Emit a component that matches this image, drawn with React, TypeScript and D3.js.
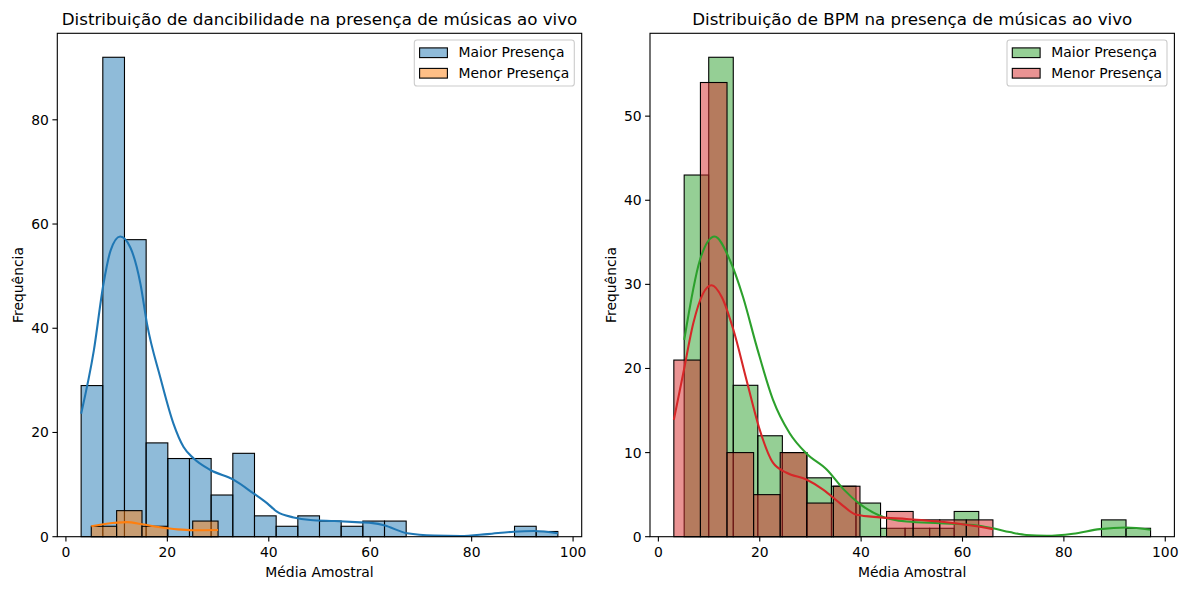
import React, { useEffect, useRef } from 'react';
import * as d3 from 'd3';

const width = 1188;
const height = 590;

// painel esquerdo: dancibilidade
const danceMaiorRange = [3.0, 97.0];
const danceMaiorCounts = [29, 92, 57, 18, 15, 15, 8, 16, 4, 2, 4, 3, 2, 3, 3, 0, 0, 0, 0, 0, 2, 1];
const danceMenorRange = [5.0, 30.0];
const danceMenorCounts = [2, 5, 2, 0, 3];

const danceMaiorKdeX = [3.0, 5.5, 7.4, 8.8, 10.7, 12.7, 14.7, 16.0, 18.6, 21.2, 23.2, 25.2, 28.5, 33.1, 37.0, 39.7, 41.6, 44.9, 48.2, 53.0, 58.1, 60.5, 62.7, 67.3, 72.6, 77.8, 83.1, 88.3, 92.3, 97.0];
const danceMaiorKdeY = [23.6, 35.7, 48.5, 54.9, 57.6, 55.5, 48.5, 40.8, 30.6, 21.7, 17.2, 15.0, 12.8, 10.9, 8.3, 6.4, 4.8, 3.7, 3.2, 3.0, 2.75, 2.6, 2.2, 0.65, 0.2, 0.13, 0.5, 0.96, 1.09, 0.65];
const danceMenorKdeX = [5.0, 8.0, 12.0, 15.0, 18.6, 22.0, 25.0, 30.0];
const danceMenorKdeY = [2.0, 2.5, 2.8, 2.4, 1.8, 1.4, 1.25, 1.3];

// painel direito: BPM
const bpmMaiorRange = [5.09, 97.1];
const bpmMaiorCounts = [43, 57, 18, 12, 10, 7, 6, 4, 1, 1, 1, 3, 0, 0, 0, 0, 0, 2, 1];
const bpmMenorRange = [3.05, 66.0];
const bpmMenorCounts = [21, 54, 10, 5, 10, 4, 6, 0, 3, 2, 2, 2];

const bpmMaiorKdeX = [5.1, 8.2, 11.1, 14.1, 16.7, 19.4, 22.6, 25.9, 29.2, 33.2, 36.6, 39.7, 43.7, 49.0, 55.5, 62.1, 66.0, 69.3, 72.6, 76.6, 81.8, 87.1, 92.3, 97.1];
const bpmMaiorKdeY = [23.4, 32.9, 35.7, 32.9, 28.5, 22.6, 16.3, 12.3, 9.9, 8.0, 5.6, 3.9, 2.5, 1.8, 1.6, 1.4, 1.0, 0.55, 0.2, 0.12, 0.36, 0.9, 1.1, 0.83];
const bpmMenorKdeX = [3.05, 4.9, 6.9, 8.8, 10.5, 12.5, 14.8, 17.4, 20.0, 22.6, 25.3, 29.2, 32.5, 35.8, 39.1, 43.7, 49.0, 55.5, 62.1, 66.0];
const bpmMenorKdeY = [13.9, 19.4, 25.4, 28.9, 29.9, 28.5, 24.6, 18.6, 12.7, 8.8, 7.6, 6.8, 5.6, 4.0, 2.6, 2.3, 2.1, 1.8, 1.3, 0.9];

const xTicks = [0, 20, 40, 60, 80, 100];
const danceYTicks = [0, 20, 40, 60, 80];
const bpmYTicks = [0, 10, 20, 30, 40, 50];
const legendLabels = ['Maior Presença', 'Menor Presença'];

interface ISeries {
  range: number[];
  counts: number[];
  kdeX: number[];
  kdeY: number[];
  color: string;
}

interface IPanel {
  left: number;
  title: string;
  yTicks: number[];
  series: ISeries[];
}

const panels: IPanel[] = [
  {
    left: 57.3,
    title: 'Distribuição de dancibilidade na presença de músicas ao vivo',
    yTicks: danceYTicks,
    series: [
      { range: danceMaiorRange, counts: danceMaiorCounts, kdeX: danceMaiorKdeX, kdeY: danceMaiorKdeY, color: '#1f77b4' },
      { range: danceMenorRange, counts: danceMenorCounts, kdeX: danceMenorKdeX, kdeY: danceMenorKdeY, color: '#ff7f0e' },
    ],
  },
  {
    left: 650,
    title: 'Distribuição de BPM na presença de músicas ao vivo',
    yTicks: bpmYTicks,
    series: [
      { range: bpmMaiorRange, counts: bpmMaiorCounts, kdeX: bpmMaiorKdeX, kdeY: bpmMaiorKdeY, color: '#2ca02c' },
      { range: bpmMenorRange, counts: bpmMenorCounts, kdeX: bpmMenorKdeX, kdeY: bpmMenorKdeY, color: '#d62728' },
    ],
  },
];

const axW = 524.4;
const axTop = 33.3;
const axBottom = 536.7;
const font = '"DejaVu Sans", sans-serif';

const drawPanel = (svg: d3.Selection<SVGSVGElement, unknown, null, undefined>, p: IPanel) => {
  const allX = p.series.flatMap((s) => s.range);
  const xMin = d3.min(allX)!;
  const xMax = d3.max(allX)!;
  const pad = (xMax - xMin) * 0.05;
  const yMax = d3.max(p.series.flatMap((s) => s.counts))! * 1.05;

  const x = d3.scaleLinear().domain([xMin - pad, xMax + pad]).range([p.left, p.left + axW]);
  const y = d3.scaleLinear().domain([0, yMax]).range([axBottom, axTop]);

  const g = svg.append('g');

  // bars (all patches under lines, like matplotlib zorder)
  p.series.forEach((s) => {
    const step = (s.range[1] - s.range[0]) / s.counts.length;
    const bins = s.counts.map((c, i) => ({ x0: s.range[0] + i * step, x1: s.range[0] + (i + 1) * step, c }));
    g.append('g')
      .selectAll('rect')
      .data(bins.filter((b) => b.c > 0))
      .enter()
      .append('rect')
      .attr('x', (b) => x(b.x0))
      .attr('y', (b) => y(b.c))
      .attr('width', (b) => x(b.x1) - x(b.x0))
      .attr('height', (b) => y(0) - y(b.c))
      .attr('fill', s.color)
      .attr('fill-opacity', 0.5)
      .attr('stroke', '#000')
      .attr('stroke-width', 1.1);
  });

  const line = d3
    .line<number>()
    .x((d) => x(d))
    .curve(d3.curveMonotoneX);

  p.series.forEach((s) => {
    g.append('path')
      .attr('d', line.y((_, i) => y(s.kdeY[i]))(s.kdeX))
      .attr('fill', 'none')
      .attr('stroke', s.color)
      .attr('stroke-width', 2.08);
  });

  // frame
  g.append('rect')
    .attr('x', p.left)
    .attr('y', axTop)
    .attr('width', axW)
    .attr('height', axBottom - axTop)
    .attr('fill', 'none')
    .attr('stroke', '#000')
    .attr('stroke-width', 1.1);

  // x axis
  const xAxis = g.append('g');
  xTicks.forEach((t) => {
    xAxis.append('line').attr('x1', x(t)).attr('x2', x(t)).attr('y1', axBottom).attr('y2', axBottom + 4.9).attr('stroke', '#000').attr('stroke-width', 1.1);
    xAxis.append('text').attr('x', x(t)).attr('y', 556.5).attr('text-anchor', 'middle').text(t);
  });
  xAxis
    .append('text')
    .attr('x', p.left + axW / 2)
    .attr('y', 577)
    .attr('text-anchor', 'middle')
    .text('Média Amostral');

  // y axis
  const yAxis = g.append('g');
  p.yTicks.forEach((t) => {
    yAxis.append('line').attr('x1', p.left - 4.9).attr('x2', p.left).attr('y1', y(t)).attr('y2', y(t)).attr('stroke', '#000').attr('stroke-width', 1.1);
    yAxis.append('text').attr('x', p.left - 8.4).attr('y', y(t)).attr('dy', '0.36em').attr('text-anchor', 'end').text(t);
  });
  yAxis
    .append('text')
    .attr('transform', `translate(${p.left - 34.5}, ${(axTop + axBottom) / 2}) rotate(-90)`)
    .attr('text-anchor', 'middle')
    .text('Frequência');

  g.selectAll('text').style('font-size', '13.9px').style('font-family', font).attr('fill', '#000');

  // title
  g.append('text')
    .attr('x', p.left + axW / 2)
    .attr('y', 25)
    .attr('text-anchor', 'middle')
    .style('font-size', '16.7px')
    .style('font-family', font)
    .text(p.title);

  // legend
  const lgW = 160;
  const lgX = p.left + axW - 7.4 - lgW;
  const lg = g.append('g');
  lg.append('rect')
    .attr('x', lgX)
    .attr('y', 40)
    .attr('width', lgW)
    .attr('height', 46)
    .attr('rx', 2.8)
    .attr('fill', '#fff')
    .attr('fill-opacity', 0.8)
    .attr('stroke', '#cccccc')
    .attr('stroke-width', 1.1);
  legendLabels.forEach((lab, i) => {
    const cy = 52.8 + i * 20.5;
    lg.append('rect')
      .attr('x', lgX + 5.3)
      .attr('y', cy - 4.9)
      .attr('width', 27.8)
      .attr('height', 9.7)
      .attr('fill', p.series[i].color)
      .attr('fill-opacity', 0.5)
      .attr('stroke', '#000')
      .attr('stroke-width', 1.1);
    lg.append('text')
      .attr('x', lgX + 44.3)
      .attr('y', cy)
      .attr('dy', '0.33em')
      .style('font-size', '13.9px')
      .style('font-family', font)
      .text(lab);
  });
};

const App: React.FC = () => {
  const containerRef = useRef<HTMLDivElement>(null);

  useEffect(() => {
    if (!containerRef.current) return;
    const container = containerRef.current;
    d3.select(container).selectAll('*').remove();
    const svg = d3
      .select(container)
      .append('svg')
      .attr('width', width)
      .attr('height', height)
      .style('display', 'block')
      .style('background', '#fff');
    panels.forEach((p) => drawPanel(svg, p));
  }, []);

  return <div ref={containerRef} style={{ position: 'absolute', left: 0, top: 0 }}></div>;
};

export default App;
